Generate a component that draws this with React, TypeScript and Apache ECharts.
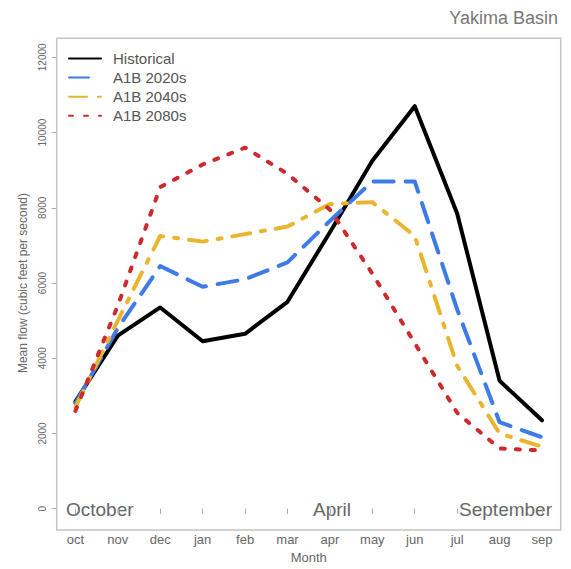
import React, { useEffect, useRef } from "react";
import * as echarts from "echarts";

const months = ["oct", "nov", "dec", "jan", "feb", "mar", "apr", "may", "jun", "jul", "aug", "sep"];
const historical = [2850, 4600, 5350, 4450, 4650, 5500, 7350, 9250, 10700, 7850, 3400, 2350];
const a1b2020s = [2800, 4800, 6450, 5900, 6100, 6550, 7650, 8700, 8700, 5300, 2300, 1900];
const a1b2040s = [2700, 5000, 7250, 7100, 7300, 7500, 8100, 8150, 7250, 3800, 2000, 1650];
const a1b2080s = [2600, 5400, 8550, 9150, 9600, 8900, 7950, 6250, 4400, 2550, 1600, 1550];
const yTicks = [0, 2000, 4000, 6000, 8000, 10000, 12000];

const FONT = "'Liberation Sans', Arial, Helvetica, sans-serif";

export default function App() {
  const ref = useRef<HTMLDivElement>(null);
  useEffect(() => {
    if (!ref.current) return;
    const chart = echarts.init(ref.current, undefined, { renderer: "svg" });
    const mkSeries = (name: string, data: number[], color: string, type: any, cap: any) => ({
      name,
      type: "line",
      data,
      symbol: "none",
      smooth: false,
      lineStyle: { color, width: 4, type, cap, join: "round" },
      itemStyle: { color },
    });
    chart.setOption({
      animation: false,
      backgroundColor: "#ffffff",
      textStyle: { fontFamily: FONT },
      grid: { left: 75.4, right: 29, top: 57.3, bottom: 57.3 },
      legend: {
        orient: "vertical",
        left: 68,
        top: 51,
        padding: 0,
        itemWidth: 32,
        itemHeight: 14,
        itemGap: 4.1,
        itemStyle: { opacity: 0 },
        textStyle: { fontSize: 15, color: "#555", fontFamily: FONT, padding: [0, 0, 0, 7] },
        data: ["Historical", "A1B 2020s", "A1B 2040s", "A1B 2080s"],
      },
      xAxis: {
        type: "category",
        data: months,
        boundaryGap: false,
        offset: 18.3,
        axisLine: { show: false },
        axisTick: { show: true, length: 5, lineStyle: { color: "#aaa", width: 1 } },
        axisLabel: { fontSize: 13, color: "#666", margin: 6, fontFamily: FONT },
        splitLine: { show: false },
        name: "Month",
        nameLocation: "middle",
        nameGap: 24,
        nameTextStyle: { fontSize: 13, color: "#666", fontFamily: FONT },
      },
      yAxis: {
        type: "value",
        min: yTicks[0],
        max: yTicks[yTicks.length - 1],
        interval: 2000,
        offset: 18.7,
        axisLine: { show: false },
        axisTick: { show: true, length: 5, lineStyle: { color: "#aaa", width: 1 } },
        axisLabel: {
          fontSize: 10,
          color: "#666",
          rotate: 90,
          margin: 9,
          fontFamily: FONT,
          formatter: (v: number) => String(v),
        },
        splitLine: { show: false },
        name: "Mean flow (cubic feet per second)",
        nameLocation: "middle",
        nameGap: 28,
        nameTextStyle: { fontSize: 12, color: "#666", fontFamily: FONT },
      },
      graphic: [
        {
          type: "rect",
          shape: { x: 56.7, y: 38.3, width: 504, height: 491.7 },
          style: { fill: "none", stroke: "#c4c4c4", lineWidth: 1.5 },
          silent: true,
          z: 100,
        },
        {
          type: "text",
          style: { text: "Yakima Basin", x: 558, y: 18, align: "right", verticalAlign: "middle", fontSize: 18, fill: "#777", fontFamily: FONT },
        },
        {
          type: "text",
          style: { text: "October", x: 66, y: 509, align: "left", verticalAlign: "middle", fontSize: 19, fill: "#666", fontFamily: FONT },
        },
        {
          type: "text",
          style: { text: "April", x: 332, y: 509, align: "center", verticalAlign: "middle", fontSize: 19, fill: "#666", fontFamily: FONT },
        },
        {
          type: "text",
          style: { text: "September", x: 552, y: 509, align: "right", verticalAlign: "middle", fontSize: 19, fill: "#666", fontFamily: FONT },
        },
      ],
      series: [
        mkSeries("Historical", historical, "#000000", "solid", "round"),
        mkSeries("A1B 2020s", a1b2020s, "#3d7ce6", [20, 12], "round"),
        mkSeries("A1B 2040s", a1b2040s, "#e9b52f", [18, 11, 4, 11], "round"),
        mkSeries("A1B 2080s", a1b2080s, "#cc2a2f", [4, 11], "round"),
      ],
    });
    return () => chart.dispose();
  }, []);
  return (
    <div
      ref={ref}
      style={{ position: "fixed", left: 0, top: 0, width: 571, height: 569, background: "#fff" }}
    />
  );
}
